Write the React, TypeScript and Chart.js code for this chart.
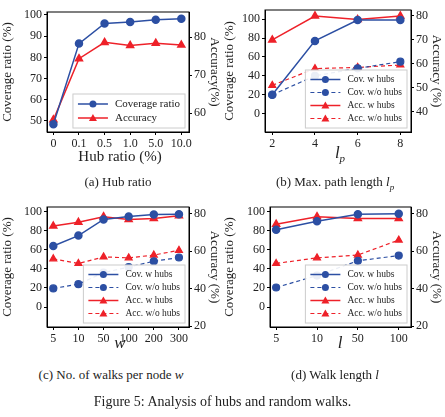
import { useEffect, useRef } from 'react';
import { Chart, registerables } from 'chart.js';

Chart.register(...registerables);

const BLUE = '#2c4fa3';
const RED = '#ee2129';
const FONT = "'Liberation Serif', 'DejaVu Serif', serif";

// (a) hub ratio
const hubLabels = ['0', '0.1', '0.5', '1.0', '5.0', '10.0'];
const hubCoverage = [48.5, 86.5, 96, 96.7, 97.7, 98.2];
const hubAccuracy = [58.2, 74.3, 78.6, 77.8, 78.4, 77.9];

// (b) max path length
const lpLabels = ['2', '4', '6', '8'];
const lpCovW = [20, 77, 99, 99];
const lpCovWo = [20, 40, 48, 55];
const lpAccW = [70, 80, 78.5, 80];
const lpAccWo = [51, 58, 58.5, 59.5];

// (c) walks per node
const wLabels = ['5', '10', '50', '100', '200', '300'];
const wCovW = [64, 75, 92, 95, 97, 97.5];
const wCovWo = [19.5, 24, 36, 42, 48, 52];
const wAccW = [73.5, 75.5, 78.5, 77, 77.5, 79];
const wAccWo = [56, 53.5, 57, 56.5, 58, 60.5];

// (d) walk length
const lLabels = ['5', '10', '50', '100'];
const lCovW = [81, 90, 97.5, 98];
const lCovWo = [20.5, 33, 48.5, 54];
const lAccW = [74.5, 78.5, 77.5, 77.5];
const lAccWo = [53.5, 56.5, 58, 66];

type Series = { label: string; data: number[]; color: string; dashed: boolean; tri: boolean; axis: 'y' | 'y1' };

interface PanelProps {
  labels: string[];
  series: Series[];
  xMin: number;
  xMax: number;
  yMin: number;
  yMax: number;
  yTicks: number[];
  y1Min: number;
  y1Max: number;
  y1Ticks: number[];
  rightTitle: string;
  leftWidth: number;
  topPad: number;
  legendFont: number;
  legendRow: number;
}

const frameAndLegend = {
  id: 'frameAndLegend',
  afterDraw(chart: any) {
    const { ctx, chartArea } = chart;
    const o = chart.options.plugins.frameAndLegend;
    ctx.save();
    ctx.strokeStyle = '#000';
    ctx.lineWidth = 1;
    ctx.strokeRect(chartArea.left, chartArea.top, chartArea.right - chartArea.left, chartArea.bottom - chartArea.top);
    const ds = chart.data.datasets;
    ctx.font = `${o.font}px ${FONT}`;
    const tw = Math.max(...ds.map((d: any) => ctx.measureText(d.label).width));
    const w = 42 + tw + 5;
    const h = ds.length * o.row + 6;
    const x = chartArea.right - w - 4;
    const y = chartArea.bottom - h - 4;
    ctx.fillStyle = 'rgba(255,255,255,0.9)';
    ctx.strokeStyle = '#ccc';
    ctx.fillRect(x, y, w, h);
    ctx.strokeRect(x, y, w, h);
    ds.forEach((d: any, i: number) => {
      const cy = y + 3 + o.row * (i + 0.5);
      ctx.strokeStyle = d.borderColor;
      ctx.lineWidth = d.borderDash.length ? 1.2 : 1.5;
      ctx.setLineDash(d.borderDash);
      ctx.beginPath();
      ctx.moveTo(x + 5, cy);
      ctx.lineTo(x + 35, cy);
      ctx.stroke();
      ctx.setLineDash([]);
      ctx.fillStyle = d.borderColor;
      ctx.beginPath();
      if (d.pointStyle === 'triangle') {
        ctx.moveTo(x + 20, cy - 4);
        ctx.lineTo(x + 24, cy + 3);
        ctx.lineTo(x + 16, cy + 3);
      } else {
        ctx.arc(x + 20, cy, 3.5, 0, Math.PI * 2);
      }
      ctx.fill();
      ctx.fillStyle = '#222';
      ctx.textBaseline = 'middle';
      ctx.fillText(d.label, x + 42, cy);
    });
    ctx.restore();
  },
};

function Panel(p: PanelProps) {
  const ref = useRef<HTMLCanvasElement>(null);
  useEffect(() => {
    if (!ref.current) return;
    const tickFont = { family: FONT, size: 12 };
    const axisBase = {
      grid: { display: true, drawOnChartArea: false, drawTicks: true, tickLength: 3, color: '#000' },
      border: { color: '#000', width: 1 },
      ticks: { font: tickFont, color: '#222', padding: 2 },
    };
    const chart = new Chart(ref.current, {
      type: 'line',
      data: {
        datasets: p.series.map((s) => ({
          label: s.label,
          data: s.data.map((v, i) => ({ x: i, y: v })),
          borderColor: s.color,
          backgroundColor: s.color,
          borderWidth: s.dashed ? 1.2 : 1.5,
          borderDash: s.dashed ? [4, 3] : [],
          pointStyle: s.tri ? 'triangle' : 'circle',
          pointRadius: s.tri ? 4 : 3.5,
          yAxisID: s.axis,
        })),
      },
      plugins: [frameAndLegend],
      options: {
        animation: false,
        responsive: false,
        layout: { padding: { top: p.topPad, left: 0, right: 0, bottom: 0 } },
        plugins: {
          legend: { display: false },
          tooltip: { enabled: false },
          frameAndLegend: { font: p.legendFont, row: p.legendRow },
        } as any,
        scales: {
          x: {
            type: 'linear',
            min: p.xMin,
            max: p.xMax,
            ...axisBase,
            afterBuildTicks: (s: any) => { s.ticks = p.labels.map((_, i) => ({ value: i })); },
            afterFit: (s: any) => { s.height = 18; },
            ticks: { ...axisBase.ticks, maxRotation: 0, autoSkip: false, callback: (v: any) => p.labels[v] ?? '' },
          },
          y: {
            position: 'left',
            min: p.yMin,
            max: p.yMax,
            ...axisBase,
            afterBuildTicks: (s: any) => { s.ticks = p.yTicks.map((v) => ({ value: v })); },
            afterFit: (s: any) => { s.width = p.leftWidth; },
            title: { display: true, text: 'Coverage ratio (%)', font: { family: FONT, size: 13 }, color: '#222', padding: 0 },
          },
          y1: {
            position: 'right',
            min: p.y1Min,
            max: p.y1Max,
            ...axisBase,
            afterBuildTicks: (s: any) => { s.ticks = p.y1Ticks.map((v) => ({ value: v })); },
            afterFit: (s: any) => { s.width = 33; },
            title: { display: true, text: p.rightTitle, font: { family: FONT, size: 13 }, color: '#222', padding: 0 },
          },
        } as any,
      },
    });
    return () => chart.destroy();
  }, []);
  return <canvas ref={ref} width={222} height={150} style={{ width: 222, height: 150, display: 'block' }} />;
}

const mk = (cw: number[], cwo: number[], aw: number[], awo: number[]): Series[] => [
  { label: 'Cov. w hubs', data: cw, color: BLUE, dashed: false, tri: false, axis: 'y' },
  { label: 'Cov. w/o hubs', data: cwo, color: BLUE, dashed: true, tri: false, axis: 'y' },
  { label: 'Acc. w hubs', data: aw, color: RED, dashed: false, tri: true, axis: 'y1' },
  { label: 'Acc. w/o hubs', data: awo, color: RED, dashed: true, tri: true, axis: 'y1' },
];

const txt = (left: number, top: number, w: number, size: number, content: any) => (
  <div style={{ position: 'absolute', left, top, width: w, textAlign: 'center', fontSize: size, fontFamily: FONT, color: '#222', lineHeight: 1 }}>{content}</div>
);

export default function App() {
  return (
    <div style={{ position: 'absolute', left: 0, top: 0, width: 445, height: 417, background: '#fff' }}>
      <div style={{ position: 'absolute', left: 0, top: 0 }}>
        <Panel
          labels={hubLabels}
          series={[
            { label: 'Coverage ratio', data: hubCoverage, color: BLUE, dashed: false, tri: false, axis: 'y' },
            { label: 'Accuracy', data: hubAccuracy, color: RED, dashed: false, tri: true, axis: 'y1' },
          ]}
          xMin={-0.25} xMax={5.3} yMin={44.8} yMax={101.4} yTicks={[50, 60, 70, 80, 90, 100]}
          y1Min={55} y1Max={86.6} y1Ticks={[60, 70, 80]} rightTitle="Accuracy(%)"
          leftWidth={47} topPad={12} legendFont={11} legendRow={14}
        />
      </div>
      <div style={{ position: 'absolute', left: 222, top: 0 }}>
        <Panel
          labels={lpLabels} series={mk(lpCovW, lpCovWo, lpAccW, lpAccWo)}
          xMin={-0.17} xMax={3.25} yMin={-19.4} yMax={109.7} yTicks={[0, 20, 40, 60, 80, 100]}
          y1Min={31.5} y1Max={82.5} y1Ticks={[40, 50, 60, 70, 80]} rightTitle="Accuracy (%)"
          leftWidth={43} topPad={10} legendFont={9.5} legendRow={13}
        />
      </div>
      <div style={{ position: 'absolute', left: 0, top: 195 }}>
        <Panel
          labels={wLabels} series={mk(wCovW, wCovWo, wAccW, wAccWo)}
          xMin={-0.25} xMax={5.4} yMin={-21} yMax={105} yTicks={[0, 20, 40, 60, 80, 100]}
          y1Min={19.5} y1Max={83.7} y1Ticks={[20, 40, 60, 80]} rightTitle="Accuracy (%)"
          leftWidth={47} topPad={12} legendFont={9.5} legendRow={13}
        />
      </div>
      <div style={{ position: 'absolute', left: 222, top: 195 }}>
        <Panel
          labels={lLabels} series={mk(lCovW, lCovWo, lAccW, lAccWo)}
          xMin={-0.15} xMax={3.3} yMin={-21} yMax={105} yTicks={[0, 20, 40, 60, 80, 100]}
          y1Min={19.5} y1Max={83.7} y1Ticks={[20, 40, 60, 80]} rightTitle="Accuracy (%)"
          leftWidth={48} topPad={12} legendFont={9.5} legendRow={13}
        />
      </div>
      {txt(30, 149, 180, 15, 'Hub ratio (%)')}
      {txt(250, 144, 180, 17, <span><i>l</i><sub style={{ fontSize: 11 }}><i>p</i></sub></span>)}
      {txt(30, 334, 180, 17, <i>w</i>)}
      {txt(250, 334, 180, 17, <i>l</i>)}
      {txt(18, 175, 200, 13, '(a) Hub ratio')}
      {txt(235, 175, 200, 13, <span>(b) Max. path length <i>l</i><sub style={{ fontSize: 9 }}><i>p</i></sub></span>)}
      {txt(0, 368, 222, 13, <span>(c) No. of walks per node <i>w</i></span>)}
      {txt(235, 368, 200, 13, <span>(d) Walk length <i>l</i></span>)}
      {txt(0, 395, 445, 14, 'Figure 5: Analysis of hubs and random walks.')}
    </div>
  );
}
